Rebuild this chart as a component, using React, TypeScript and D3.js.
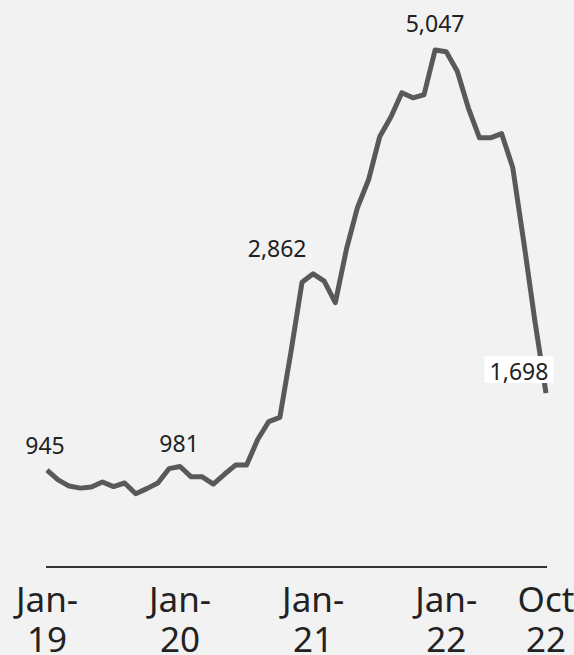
import React from "react";
import * as d3 from "d3";

const months: string[] = [
  "2019-01","2019-02","2019-03","2019-04","2019-05","2019-06","2019-07","2019-08","2019-09","2019-10","2019-11","2019-12",
  "2020-01","2020-02","2020-03","2020-04","2020-05","2020-06","2020-07","2020-08","2020-09","2020-10","2020-11","2020-12",
  "2021-01","2021-02","2021-03","2021-04","2021-05","2021-06","2021-07","2021-08","2021-09","2021-10","2021-11","2021-12",
  "2022-01","2022-02","2022-03","2022-04","2022-05","2022-06","2022-07","2022-08","2022-09","2022-10",
];

const values: number[] = [
  945, 850, 790, 770, 780, 830, 785, 820, 715, 765, 820, 960,
  981, 880, 880, 810, 905, 995, 995, 1245, 1420, 1460, 2100, 2780,
  2862, 2790, 2580, 3100, 3510, 3780, 4200, 4390, 4630, 4580, 4610, 5047,
  5030, 4840, 4480, 4190, 4190, 4230, 3900, 3170, 2400, 1698,
];

const labelIndices: number[] = [0, 12, 24, 35, 45];
const labelTexts: string[] = ["945", "981", "2,862", "5,047", "1,698"];

const tickIndices: number[] = [0, 12, 24, 36, 45];
const tickLine1: string[] = ["Jan-", "Jan-", "Jan-", "Jan-", "Oct"];
const tickLine2: string[] = ["19", "20", "21", "22", "22"];

const W = 574;
const H = 655;

// label placement offsets (style only)
const labelOffsets: [number, number][] = [
  [-2, -16],
  [-1, -15],
  [-36, -17],
  [0, -18],
  [-27, -13],
];

export default function App() {
  const x = d3.scaleLinear().domain([0, months.length - 1]).range([47, 546]);
  const y = d3.scaleLinear().domain([0, 5047]).range([567, 50]);

  const line = d3
    .line<number>()
    .x((_, i) => x(i))
    .y((d) => y(d));

  const font = "'Noto Sans', 'Open Sans', sans-serif";

  return (
    <svg
      width={W}
      height={H}
      style={{ position: "absolute", left: 0, top: 0, background: "#f2f2f2" }}
      fontFamily={font}
    >
      <rect x={0} y={0} width={W} height={H} fill="#f2f2f2" />
      <line x1={x(0) - 1} x2={x(months.length - 1) + 1} y1={y(0)} y2={y(0)} stroke="#333" strokeWidth={2} />
      <path
        d={line(values) || ""}
        fill="none"
        stroke="#58595b"
        strokeWidth={5}
        strokeLinejoin="round"
      />
      {labelIndices.map((idx, k) => {
        const cx = x(idx) + labelOffsets[k][0];
        const by = y(values[idx]) + labelOffsets[k][1];
        const isLast = k === labelIndices.length - 1;
        return (
          <g key={k}>
            {isLast && (
              <rect x={cx - 34.5} y={by - 24} width={69} height={27} fill="#ffffff" />
            )}
            <text x={cx} y={by} textAnchor="middle" fontSize={23} fill="#222">
              {labelTexts[k]}
            </text>
          </g>
        );
      })}
      {tickIndices.map((idx, k) => (
        <g key={"t" + k}>
          <text x={x(idx)} y={612} textAnchor="middle" fontSize={35} fill="#222">
            {tickLine1[k]}
          </text>
          <text x={x(idx)} y={652} textAnchor="middle" fontSize={35} fill="#222">
            {tickLine2[k]}
          </text>
        </g>
      ))}
    </svg>
  );
}
